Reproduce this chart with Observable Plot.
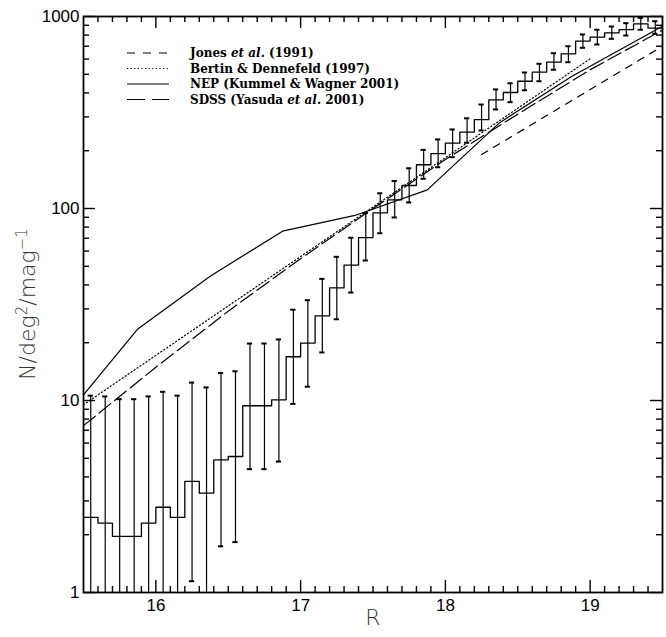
<!DOCTYPE html>
<html><head><meta charset="utf-8">
<script src="https://cdn.jsdelivr.net/npm/d3@7"></script>
<script src="https://cdn.jsdelivr.net/npm/@observablehq/plot@0.6"></script>
<style>body{margin:0;background:#fff}</style>
</head><body><div id="chart"></div>
<script>
// Histogram (0.1 mag bins): bin centres, counts and error-bar limits
const binCenter = [15.55,15.65,15.75,15.85,15.95,16.05,16.15,16.25,16.35,16.45,16.55,16.65,16.75,16.85,16.95,17.05,17.15,17.25,17.35,17.45,17.55,17.65,17.75,17.85,17.95,18.05,18.15,18.25,18.35,18.45,18.55,18.65,18.75,18.85,18.95,19.05,19.15,19.25,19.35,19.45];
const counts = [2.46,2.30,1.96,1.96,2.30,2.78,2.46,3.79,3.29,4.91,5.11,9.39,9.39,10.08,16.9,19.9,27.6,38.6,50.7,70.6,95,111,131.8,169,193,219,250,290,368,402,460,513,578,639,744,780,822,855,916,869];
const errHigh = [10.6,10.5,10.16,10.16,10.5,11.1,10.6,12.4,11.7,13.9,14.2,19.8,19.8,20.8,29.7,33.3,43,56,70.4,94.6,120,139,162,202,229,258,295,348,417,449,511,567,644,700,806,853,887,923,984,945];
const errLow = [0.5,0.5,0.5,0.5,0.5,0.5,0.5,1.145,0.5,1.74,1.83,4.39,4.39,4.81,9.6,11.8,17.8,26.5,36.5,53.6,74.3,89.8,107.5,142.8,164,185,220,255,328,358,413,460,528,578,687,715,765,796,853,813];

// Model / literature counts
const jonesR = [18.25, 19.5];
const jonesN = [191, 700];
const bertinR = [15.5, 19.0];
const bertinN = [9.5, 602];
const nepR = [15.5, 15.875, 16.375, 16.875, 17.375, 17.875, 18.375, 18.875, 19.375, 19.5];
const nepN = [10.7, 23.6, 44.4, 76.2, 92, 125, 280, 489, 789, 890];
const sdssR = [15.5, 16.0, 16.5, 17.0, 17.5, 18.0, 18.5, 19.0, 19.5];
const sdssN = [7.4, 14.9, 29.2, 54.8, 100, 180, 310, 528, 850];

// Axis ticks
const xMajor = [16, 17, 18, 19];
const xMinor = [15.6,15.7,15.8,15.9,16.1,16.2,16.3,16.4,16.5,16.6,16.7,16.8,16.9,17.1,17.2,17.3,17.4,17.5,17.6,17.7,17.8,17.9,18.1,18.2,18.3,18.4,18.5,18.6,18.7,18.8,18.9,19.1,19.2,19.3,19.4];
const yMajor = [1, 10, 100, 1000];
const yMinor = [2,3,4,5,6,7,8,9,20,30,40,50,60,70,80,90,200,300,400,500,600,700,800,900];

const legendLabels = [
  ["Jones ", "et al.", " (1991)"],
  ["Bertin & Dennefeld (1997)"],
  ["NEP (Kummel & Wagner 2001)"],
  ["SDSS (Yasuda ", "et al.", " 2001)"]
];
const legendDash = ["8,8", "1.2,2.4", null, "18,7"];

const W = 666, H = 637, mL = 83, mR = 4, mT = 16, mB = 45;
const pW = W - mL - mR, pH = H - mT - mB;

const hist = binCenter.map((c, i) => ({x: c - 0.05, y: counts[i]}));
hist.push({x: 19.5, y: counts[counts.length - 1]});
const bars = binCenter.map((c, i) => ({c, lo: errLow[i], hi: errHigh[i]}));
const zip = (R, N) => R.map((r, i) => ({r, n: N[i]}));

const ink = "#000";
const chart = Plot.plot({
  width: W, height: H,
  marginLeft: mL, marginRight: mR, marginTop: mT, marginBottom: mB,
  style: {fontFamily: "Liberation Sans, Arial, sans-serif", fontSize: "17px", background: "#fff", color: "#000"},
  x: {domain: [15.5, 19.5], label: null},
  y: {type: "log", domain: [1, 1000], label: null},
  marks: [
    Plot.line(zip(bertinR, bertinN), {x: "r", y: "n", stroke: ink, strokeWidth: 1.2, strokeDasharray: "1.2,2.4"}),
    Plot.line(zip(sdssR, sdssN), {x: "r", y: "n", stroke: ink, strokeWidth: 1.2, strokeDasharray: "15,5"}),
    Plot.line(zip(jonesR, jonesN), {x: "r", y: "n", stroke: ink, strokeWidth: 1.2, strokeDasharray: "7,7"}),
    Plot.line(zip(nepR, nepN), {x: "r", y: "n", stroke: ink, strokeWidth: 1.2}),
    Plot.line(hist, {x: "x", y: "y", curve: "step-after", stroke: ink, strokeWidth: 1.3, clip: true}),
    Plot.ruleX(bars, {x: "c", y1: "lo", y2: "hi", stroke: ink, strokeWidth: 1.2, clip: true}),
    Plot.ruleY(bars, {y: "hi", x1: d => d.c - 0.018, x2: d => d.c + 0.018, stroke: ink, strokeWidth: 2}),
    Plot.ruleY(bars.filter(d => d.lo >= 1), {y: "lo", x1: d => d.c - 0.018, x2: d => d.c + 0.018, stroke: ink, strokeWidth: 2}),
    // inward ticks on all four sides
    Plot.ruleX(xMajor, {x: d => d, insetTop: pH - 12, stroke: ink, strokeWidth: 1.4}),
    Plot.ruleX(xMajor, {x: d => d, insetBottom: pH - 12, stroke: ink, strokeWidth: 1.4}),
    Plot.ruleX(xMinor, {x: d => d, insetTop: pH - 6, stroke: ink, strokeWidth: 1.4}),
    Plot.ruleX(xMinor, {x: d => d, insetBottom: pH - 6, stroke: ink, strokeWidth: 1.4}),
    Plot.ruleY(yMajor, {y: d => d, insetRight: pW - 12, stroke: ink, strokeWidth: 1.4}),
    Plot.ruleY(yMajor, {y: d => d, insetLeft: pW - 12, stroke: ink, strokeWidth: 1.4}),
    Plot.ruleY(yMinor, {y: d => d, insetRight: pW - 6, stroke: ink, strokeWidth: 1.4}),
    Plot.ruleY(yMinor, {y: d => d, insetLeft: pW - 6, stroke: ink, strokeWidth: 1.4}),
    Plot.frame({stroke: ink, strokeWidth: 1.8}),
    Plot.axisX({ticks: xMajor, tickSize: 0, tickPadding: 6, tickFormat: d => String(d), fontSize: 17}),
    Plot.axisY({ticks: yMajor, tickSize: 0, tickPadding: 4, tickFormat: d => String(d), fontSize: 17}),
    Plot.text(["R"], {frameAnchor: "bottom", dy: 32, fontSize: 22, fill: "#333", fontFamily: "DejaVu Sans ExtraLight, DejaVu Sans, sans-serif", fontWeight: 300})
  ]
});
document.getElementById("chart").appendChild(chart);

const svg = d3.select(chart);

// Y axis title with real superscripts
const yt = svg.append("text")
  .attr("transform", `translate(${mL - 56},${mT + pH / 2}) rotate(-90)`)
  .attr("text-anchor", "middle").attr("dy", "0.35em")
  .attr("font-family", "DejaVu Sans ExtraLight, DejaVu Sans, sans-serif")
  .attr("font-weight", 300).attr("font-size", 22).attr("fill", "#333");
[["N/deg", false], ["2", true], ["/mag", false], ["\u22121", true]].forEach(([s, sup]) => {
  const ts = yt.append("tspan").text(s);
  if (sup) ts.attr("font-size", 15).attr("baseline-shift", "55%");
});

// Legend inside the frame (top-left)
const lg = svg.append("g").attr("transform", `translate(${mL},${mT})`);
const rowY = [37, 52.5, 68, 83.5];
legendLabels.forEach((parts, i) => {
  const y = rowY[i];
  const ln = lg.append("line").attr("x1", 44).attr("x2", 86).attr("y1", y).attr("y2", y)
    .attr("stroke", ink).attr("stroke-width", 1.2);
  if (legendDash[i]) ln.attr("stroke-dasharray", legendDash[i]);
  const t = lg.append("text").attr("x", 107).attr("y", y).attr("dy", "0.35em")
    .attr("text-anchor", "start")
    .attr("font-family", "DejaVu Serif, Liberation Serif, serif").attr("font-weight", "bold")
    .attr("font-size", 12).attr("fill", ink);
  parts.forEach(p => {
    const ts = t.append("tspan").text(p);
    if (p === "et al.") ts.attr("font-style", "italic");
  });
});
</script>
</body></html>
